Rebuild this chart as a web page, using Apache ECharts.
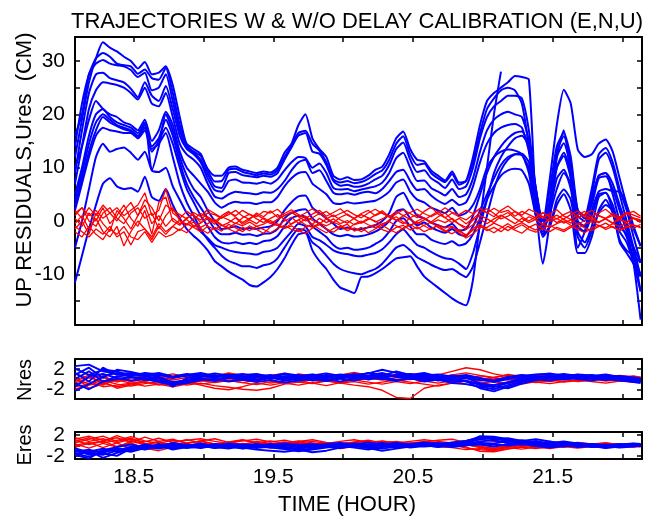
<!DOCTYPE html>
<html>
<head>
<meta charset="utf-8">
<title>Trajectories with and without delay calibration</title>
<script src="https://cdn.jsdelivr.net/npm/echarts@6/dist/echarts.min.js"></script>
<style>
  html, body { margin: 0; padding: 0; background: #fff; }
  #chart { width: 658px; height: 516px; }
</style>
</head>
<body>
<div id="chart"></div>
<script>
// time axis (hours), fine grid for the UP panel, coarse grid for N / E panels
const hours = [18.08, 18.13, 18.18, 18.23, 18.28, 18.33, 18.38, 18.43, 18.48, 18.53, 18.58, 18.63, 18.68, 18.73, 18.78, 18.83, 18.88, 18.93, 18.98, 19.03,
  19.08, 19.13, 19.18, 19.23, 19.28, 19.33, 19.38, 19.43, 19.48, 19.53, 19.58, 19.63, 19.68, 19.73, 19.78, 19.83, 19.88, 19.93, 19.98, 20.03,
  20.08, 20.13, 20.18, 20.23, 20.28, 20.33, 20.38, 20.43, 20.48, 20.53, 20.58, 20.63, 20.68, 20.73, 20.78, 20.83, 20.88, 20.93, 20.98, 21.03,
  21.08, 21.13, 21.18, 21.23, 21.28, 21.33, 21.38, 21.43, 21.48, 21.53, 21.58, 21.63, 21.68, 21.73, 21.78, 21.83, 21.88, 21.93, 21.98, 22.03,
  22.08, 22.13];
const hoursCoarse = [18.08, 18.18, 18.28, 18.38, 18.48, 18.58, 18.68, 18.78, 18.88, 18.98, 19.08, 19.18, 19.28, 19.38, 19.48, 19.58, 19.68, 19.78, 19.88, 19.98,
  20.08, 20.18, 20.28, 20.38, 20.48, 20.58, 20.68, 20.78, 20.88, 20.98, 21.08, 21.18, 21.28, 21.38, 21.48, 21.58, 21.68, 21.78, 21.88, 21.98,
  22.08, 22.13];

// tick positions and labels
const timeTicks = [18.5, 19, 19.5, 20, 20.5, 21, 21.5, 22];
const timeLabels = [18.5, 19.5, 20.5, 21.5];
const upTicks = [-15, -10, -5, 0, 5, 10, 15, 20, 25, 30];
const upLabels = [-10, 0, 10, 20, 30];
const resTicks = [-2, 0, 2];
const resLabelTop = [2];
const resLabelBottom = [-2];

// UP residuals without delay calibration (blue), cm
const upBlue01 = [12, 19, 26, 30.5, 33.5, 32.5, 31.8, 30.8, 30, 28.6, 29.8, 27.5, 27.8, 29, 25.5, 19.5, 14.2, 13, 12.2, 9.8,
  8.5, 8.5, 10, 10.2, 9.6, 9.3, 9.0, 9.3, 9.1, 10, 12.8, 14.5, 18, 20, 15.5, 13.5, 12, 8.5, 7.8, 8.2,
  7.7, 7.8, 8.5, 9.6, 10.2, 12.5, 15.5, 16.8, 13.5, 11.5, 11.2, 9.5, 8.5, 7.6, 9.3, 7.2, 7.5, 11, 16.5, 21,
  23, 24.5, 25, 24.5, 22, 14, 3, 0, 8, 18, 24.6, 22, 13.4, 12, 12.5, 14.5, 15.3, 13, 8, 3, -1.5, -4.7];
const upBlue02 = [14, 22, 27.5, 30.5, 31.5, 30.8, 29.5, 29.2, 29, 27.6, 28.4, 26.8, 26.5, 28.7, 24, 18, 14.5, 13.5, 12.6, 9.5,
  7.4, 7.5, 9.6, 9.8, 9.2, 8.9, 8.6, 8.9, 8.7, 9.5, 12, 14.2, 16.5, 16.9, 14.5, 13.2, 11, 7.8, 7.2, 7.5,
  7.1, 7.3, 7.9, 8.8, 9.5, 11.5, 14.5, 15.9, 12.5, 10.5, 10.8, 9, 8, 7.3, 8.8, 6.8, 7.5, 12, 18, 22.5,
  24, 25, 26, 27.2, 27, 26.5, 3, -8, 0, 12, 17, 8, -5, -2, 4, 8.5, 9, 5, 0, -3, -7, -10];
const upBlue03 = [16, 20, 27.5, 29.5, 30.2, 29.5, 29.2, 29, 28.3, 27, 27.8, 24.5, 25, 27.5, 22.5, 17, 13.8, 12.8, 11.5, 8.8,
  6.5, 6.2, 9.0, 9.2, 8.6, 8.4, 8.2, 8.5, 8.3, 9, 11.5, 13.8, 16, 16.5, 13, 12.6, 10.5, 7.5, 6.6, 6.8,
  6.4, 6.5, 7, 7.8, 8.5, 10.5, 13.5, 14.7, 11.5, 9.2, 9.5, 8, 7.2, 6.2, 7.8, 6, 6.5, 10, 15.5, 19.5,
  21.5, 22.5, 23.5, 23.5, 23, 17, 6, -1, 6, 14, 16.5, 12, 2, 1, 6, 12.5, 13.7, 11, 6, 2, -3, -7.8];
const upBlue04 = [9, 17, 24, 27.5, 27.8, 26.8, 26.4, 26, 24.8, 23.2, 26, 23.5, 22.5, 25.3, 21, 16, 13.5, 12.5, 11, 8,
  5.8, 5.5, 7.5, 7.8, 7.2, 7.15, 7, 7.3, 7, 7.8, 9.5, 11, 12, 11.8, 10, 10.8, 9, 6.2, 5.9, 6,
  5.6, 5.9, 6.2, 6.5, 7.2, 9, 11.8, 12.8, 10, 7.5, 7.6, 6.2, 5.5, 4.8, 6, 4.5, 5, 8, 13, 17,
  19, 20, 20.5, 20, 19.5, 15, 5, -1.5, 4, 13, 15.9, 11, 1, 0, 5, 11.5, 12.8, 10, 5, 0, -5, -10.4];
const upBlue05 = [7, 14, 21, 24.5, 26, 25.8, 25.5, 25, 24, 22.8, 25, 22, 21.5, 24, 19.5, 14.5, 12.5, 11.5, 10, 7,
  4.6, 4.2, 5, 5.5, 5.3, 5.2, 5, 5.4, 5.3, 6, 7.5, 9.5, 11, 11.5, 9, 9.5, 7.5, 5.3, 5, 5.2,
  4.9, 5.3, 5.5, 5.2, 6, 7.5, 9.2, 9.6, 7.5, 5.8, 6, 4.8, 3.8, 3.2, 4, 3, 3.5, 6.5, 11, 14.5,
  16.5, 17.5, 18, 18.2, 17.5, 13, 3, -2.5, 3, 12, 14.6, 10, 0, -1, 4, 8.5, 9, 7, 3, -1, -6, -13.2];
const upBlue06 = [10, 14, 19, 22.5, 21, 20, 19.5, 18.5, 18, 17, 19, 15, 17, 20.5, 18, 13, 10, 8.5, 7, 5.5,
  3.5, 2.5, 3.2, 3.6, 3.4, 3.4, 3.2, 3.5, 3.5, 4.5, 6.5, 8, 9, 9.2, 7, 6, 5, 3.4, 3.2, 3.5,
  3.3, 3.4, 3.6, 3.8, 4.5, 5.5, 7.2, 7.8, 5.5, 4, 3.5, 2.5, 2.0, 1.5, 2.5, 1, 1.5, 3, 6, 10,
  12, 13, 13.4, 13.2, 12.5, 9, 1, -2, 2, 8, 9.6, 6, -1, -2, 2, 5.5, 6, 5.6, 5.5, 3, -1, -4.7];
const upBlue07 = [5, 10, 16, 20, 21, 19.5, 18.5, 18, 17.5, 16.5, 18.4, 9.5, 14, 20, 17, 12, 8.5, 6, 4.5, 2,
  0, -1.5, -1.3, -1.0, -1.5, -1.3, -1.5, -1.2, -1.0, 0, 2, 3.5, 4.6, 4.8, 2.5, 1.5, 0.5, -0.5, -1.5, -1.2,
  -1.6, -1.5, -1.2, -0.8, 0, 1.5, 4.5, 5.3, 3, 1, 0.5, -0.3, -0.8, -1.2, -0.5, -1.8, -1.5, 1, 5, 9,
  12, 14, 15.5, 16.5, 16.8, 14, 6, -1, 3, 10, 12.8, 9, 2, 0.5, 3, 8, 8.4, 6, 2, -2, -8, -18.5];
const upBlue08 = [4, 9, 14.5, 18.5, 20, 19, 18, 17.5, 17, 16, 18, 14, 15.5, 19, 16, 11, 7, 4.5, 2.5, 0.5,
  -1.5, -2.5, -2.5, -2.2, -2.6, -2.5, -2.8, -2.4, -2.3, -1.5, 0.5, 1.5, 2, 2.2, 0.5, -0.5, -1.5, -2.5, -2.85, -2.6,
  -2.9, -2.8, -2.5, -2, -1.2, 0, 1.8, 2.2, 0.5, -0.8, -0.3, -1.2, -1.8, -2.2, -1.5, -2.5, -2.8, -1, 2, 5,
  8, 10.5, 12, 12.5, 12.3, 10, 3, -1.5, 1.5, 6, 9, 7, -2, -4, -1, 4.5, 5.3, 3, -1, -2.5, -5, -7.8];
const upBlue09 = [2, 7, 12, 16, 17.5, 17, 16.8, 16.5, 16.5, 15.5, 17, 13, 15, 17.5, 14.5, 10, 6, 3.5, 1, -1,
  -3, -4, -4.2, -4, -4.3, -4.1, -4.3, -3.8, -3.6, -2.8, -1, 0.5, 1, 0.8, -1, -2, -3, -4.5, -5.2, -5,
  -5.4, -5.3, -5, -4.3, -3.5, -2, 0, 0.5, -1, -2.5, -2.5, -3.5, -4, -4.3, -3.8, -4.6, -4.2, -2.5, 0.5, 4,
  6.5, 8.5, 9.5, 9.8, 9.5, 7, 1, -2.5, -1, 4, 5.9, 4, -3, -5, -2, 1.5, 3, 2, -2, -4, -8, -13.2];
const upBlue10 = [-5, 0, 6, 12, 14.5, 13, 13.5, 13.8, 12.8, 11.5, 13, 9.5, 9.2, 10, 6.5, 4, 1.5, 0, -2, -3.2,
  -4.5, -5, -5.5, -5.8, -6, -6.1, -6.3, -5.8, -5.6, -5, -3.5, -2, -0.5, -1, -3, -3.6, -4.5, -5.5, -6, -6.2,
  -6.5, -6.6, -6.3, -6, -5.3, -4, -2.5, -1.6, -3, -4.5, -5, -5.8, -6.5, -7, -7.2, -8, -9, -6, -1, 4,
  9, 12, 14, 15.5, 16, 14, 6, 0, 3, 10, 12.2, 8, -1, -2, 1, 5, 5.3, 2, -4, -6, -8, -10.4];
const upBlue11 = [-11.5, -6.5, -1.5, 3, 7, 8, 6.5, 6, 6.2, 5.5, 8.3, 4.5, 3.8, 6, 3, 0.5, -1.5, -2.8, -4, -5.5,
  -7.5, -8.5, -9.5, -10.3, -11, -12, -12.3, -11.5, -10.5, -9, -7, -4.5, -2.5, -2.2, -5.5, -7.5, -9, -11, -12.5, -13,
  -13.5, -10.5, -10.4, -9.8, -9, -8, -7, -6.8, -6.6, -8.5, -10.4, -11.5, -12.5, -13.5, -14.5, -15.3, -15.8, -11, 0, 10,
  20, 28];
const upBlue12 = [3, 8, 13, 17, 19.5, 18.5, 17.8, 17.2, 16.8, 15.8, 17.5, 13.5, 14.5, 16.5, 12, 7, 3.5, 1, -1.5, -3.5,
  -5, -6.5, -7.5, -8, -8.5, -8.5, -8.8, -8.3, -8, -7, -5, -3, -1.5, -1.8, -4, -5, -6.5, -8, -9, -9.5,
  -9.8, -10, -9.5, -9, -8, -6.5, -5, -4.5, -5.5, -6.8, -7.5, -8.2, -8.8, -9.2, -9, -9.8, -10.5, -8.5, -4, 1,
  6, 9.5, 11.5, 12.5, 12.6, 11, 4, -3, -1, 3, 5, 2, -6, -6, -3, 2, 4, 1.5, -3.5, -5.5, -6.5, -7.8];

// UP residuals with delay calibration (red), cm
const upRed01 = [1.5, 2.5, 1, 2, 0.5, 1.5, 2.5, 1, 2, 3, 5.3, 1, 2, 6, 1.5, 0.5, 1.8, 1, 0.2, 1.5,
  1.2, 0.5, 1.6, 1, 2, 1.2, 0.8, 1.8, 1.5, 2.2, 1, 1.6, 0.8, 1.5, 2.3, 1.2, 1.8, 0.8, 1.4, 2,
  1.2, 0.6, 1.5, 2.2, 1.4, 0.8, 1.8, 1, 1.6, 2.2, 1.4, 0.8, 1.5, 2.5, 1.6, 1.2, 2, 1.4, 2.3, 1.5,
  2.4, 1.6, 2, 0.9, 1.8, 1.2, 0.6, 1.5, 1, 0.4, 1.2, 1.8, 0.6, 1.3, 2, 1, 0.5, 1.4, 0.8, 1.6, 1.1, 0.6];
const upRed02 = [-1, -2, -3, -1.5, -2.5, -1, -3, -2, -4.5, -2, -1.5, -3.5, -1, -2.5, -1, -1.8, -0.5, -1.2, -2, -1,
  -1.6, -0.8, -1.5, -2.1, -1.2, -1.8, -1, -1.6, -2.2, -1.4, -0.8, -1.6, -2, -1.2, -0.6, -1.5, -2.2, -1.4, -1, -1.8,
  -1.3, -2, -1.1, -0.7, -1.6, -2.1, -1.2, -0.8, -1.7, -1.1, -2, -1.4, -0.9, -1.8, -2.4, -1.6, -2.8, -1.7, -0.9, -1.8,
  -1.2, -2, -1, -1.7, -2.3, -1.2, -0.6, -1.5, -2, -1.2, -1.7, -0.9, -1.6, -2.2, -1.3, -0.8, -1.6, -1, -1.8, -1.2, -0.7, -1.3];
const upRed03 = [0.5, -1, 1.5, 0, 2.5, -0.5, 1, 3, 0.5, -1, 2, -2.5, 3.5, 4.5, 0, -0.8, 0.6, 1.2, -0.3, 0.4,
  -0.6, 0.8, 0.2, -0.5, 0.6, 1.3, 0.4, -0.3, 0.5, 1.2, 0.3, -0.6, 0.2, 0.9, 0.1, -0.5, 0.4, 1.1, 0.2, -0.4,
  0.5, 1.2, 0.6, -0.2, 0.4, 1, 0.2, -0.5, 0.6, 1.3, 0.5, -0.2, 0.8, 1.5, 0.3, -0.6, -1.2, 0.2, 1, 0.4,
  -0.3, 0.9, 1.6, 0.5, -0.2, 0.8, 0.2, -0.6, 0.4, 1.1, 0.3, -0.4, 0.6, 1.2, 0.3, -0.3, 0.5, 1, 0.2, -0.3, 0.6, 0.1];
const upRed04 = [-0.5, 1, -1.5, 0.5, -2, -3, -1, -4.7, -2, 0, -1.5, -3, -0.5, -2, -1, 0.2, -0.8, -0.2, -1.2, -0.5,
  0.3, -0.7, -1.3, -0.4, -0.9, -0.2, -1, -0.6, 0.1, -0.8, -1.4, -0.5, 0.2, -0.7, -1.2, -0.4, -0.9, -0.2, -0.8, -1.5,
  -0.6, 0, -0.7, -1.3, -0.5, -0.1, -0.9, -1.5, -0.8, -0.2, -0.9, -1.6, -0.7, -1.3, -1.0, -2.2, -3.2, -2.4, -1.2, -1.2,
  -0.4, -1, -1.8, -0.9, -0.3, -1.1, -1.7, -0.6, -1.2, -0.5, 0, -0.8, -1.4, -0.6, -0.1, -0.9, -1.3, -0.5, -1, -0.4, -0.8, -1.1];
const upRed05 = [2, 0.5, 2.5, 1, 3, 1.5, 0, 2, 3.5, 1, 4, 2.5, 0, 3, 2, 1.2, 0.4, 1.6, 0.8, 2.2,
  1.4, 0.6, 1.2, 2, 0.9, 0.3, 1.5, 0.8, 1.9, 0.7, 1.4, 2.1, 1.2, 0.5, 1.3, 2, 0.9, 1.6, 2.3, 1.1,
  0.5, 1.4, 2, 1, 1.6, 0.7, 1.3, 2.1, 1.4, 0.6, 1.8, 2.6, 1.3, 0.6, 1.5, 0.8, 0.2, 1.2, 2.4, 1.6,
  0.8, 2, 2.8, 1.8, 1.1, 2.2, 1.6, 0.5, 1.4, 2.1, 0.9, 0.3, 1.2, 1.8, 0.8, 1.5, 2.2, 1.1, 0.4, 1.4, 1.8, 0.9];
const upRed06 = [-2, -3, -1, -2.5, -3.5, -1.5, -2.5, -1, -3, -3.5, -2, -4, -2, -3, -2.5, -1.5, -2.2, -0.8, -1.5, -2.3,
  -1.2, -1.9, -0.6, -1.3, -2, -0.9, -1.6, -2.3, -1.1, -0.5, -1.4, -0.9, -1.7, -2.4, -1.3, -0.7, -1.5, -2.1, -1.2, -0.6,
  -1.9, -1.2, -2.2, -1.5, -0.8, -1.6, -2.2, -1.3, -0.6, -1.5, -0.8, -0.2, -1.2, -2, -1.1, -1.9, -2.6, -1.4, -0.6, -1.5,
  -2.2, -1.3, -0.5, -1.4, -0.7, -1.6, -2.1, -1.4, -0.8, -1.5, -2, -1.2, -0.5, -1.3, -1.8, -1, -0.4, -1.2, -1.7, -0.9, -1.4, -0.6];
const upRed07 = [1, 2.5, 0, -1, 1.5, 2.5, 0.5, -0.5, 1.5, 2.5, 0.5, 1.5, -1.5, 1, 2.5, 0, -0.6, 0.4, 1.4, 0.6,
  -0.2, 1, 1.8, 0.7, -0.3, 0.5, 1.2, 0.4, -0.5, 0.3, 1, 1.7, 0.8, 0, 0.6, 1.4, 0.5, -0.3, 0.7, 1.3,
  0.4, -0.4, 0.3, 1.1, 1.9, 0.8, 0.1, 1, 0.3, -0.5, 0.2, 1, 1.8, 0.6, -0.3, 0.5, -0.5, 0.4, 1.6, 2.3,
  1.4, 0.4, 0.9, 1.8, 0.8, 0, 0.8, 1.6, 0.6, -0.3, 0.4, 1.2, 1.9, 0.7, 0.1, 1, 0.4, -0.4, 0.6, 1.4, 0.5, 0.2];
const upRed08 = [-1.5, 0, -2.5, 1.5, -0.5, -2, 2, 0.5, -1.5, 1, 3, -0.5, 1, -1, 0.5, -0.5, 0.3, -1, -0.4, 0.8,
  0, -0.9, -0.3, 0.6, -0.6, 0.2, -0.5, 0.6, -0.2, -0.9, 0, 0.7, -0.4, 0.3, -0.6, 0.5, -0.3, 0.4, -0.5, 0.1,
  -0.7, -0.3, 0.5, 0, -0.8, 0.2, 0.8, -0.2, -0.9, 0, 0.6, -0.4, 0.2, -0.3, 0.5, -0.6, -1.6, -0.7, 0.3, -0.5,
  0.4, 1.1, 0.3, -0.5, 0.5, -0.3, 0.3, 0.9, -0.1, 0.5, -0.4, 0.2, -0.6, 0.1, 0.7, -0.2, 0.4, -0.4, 0.3, -0.2, 0.5, -0.3];

// North residuals (cm)
const northBlue1 = [2.5, 2.8, 1.5, 1, 1.2, 0.6, 0.8, 0.3, 0.6, 0.9, 0.4, 0.7, 1, 0.5, 0.8, 0.2, 0.6, 0.9, 0.5, 0.2,
  0.8, 1.1, 1.8, 1.2, 0.6, 0.9, 0.4, 0.7, 0.3, -0.2, -0.5, 0.3, 0.6, 0.9, 1, 0.7, 0.8, 0.4, 0.6, 0.2, -0.2, 0];
const northBlue2 = [-2.3, -1, 0.5, 1.2, 0.4, 0.2, -0.3, -0.8, -0.2, 0.1, -0.4, 0.2, 0.5, -0.1, 0.3, -0.3, 0.1, 0.4, 0, -0.5,
  0.2, 0.6, 0.3, 0.8, 0.5, -0.2, 0.1, -0.6, -0.3, -1.2, -1.6, -0.8, -0.1, 0.3, 0.6, 0.4, 0.2, 0.5, 0.1, -0.3, -0.5, -0.6];
const northBlue3 = [1.2, -0.5, 2.2, 0.8, 1, 0.5, 0.2, -1.5, 0.2, 0.6, 0.2, 0.9, 0.4, 0.7, 0.1, 0.5, 0.8, 0.2, 0.5, 0.9,
  0.4, 1.2, 0.6, 1.5, 0.8, 0.3, 0.6, 0.1, -0.4, -1.8, -2.4, -1.5, -0.6, 0.2, 0.5, 0.8, 0.3, 0.6, 0.9, 0.4, 0, -0.3];
const northBlue4 = [0, 1.5, -0.5, 0.5, 0.8, 1, 0.4, -0.6, -0.2, 0.4, 0.8, 0.3, -0.2, 0.4, 0.6, 0, 0.3, -0.3, 0.2, 0.6,
  1, 0.5, 0.3, 0.7, 1, 0.6, 0.2, -0.2, 0.2, -0.8, -1.2, -0.6, 0.2, 0.5, 0.3, 0.1, 0.5, 0.8, 0.3, 0.1, -0.3, -0.4];
const northBlue5 = [-1.5, 0.5, 1, 0.2, -0.3, 0, -0.6, -1.2, -0.8, -0.2, 0, -0.5, -0.1, -0.6, -0.2, -0.7, -0.3, 0, -0.4, 0.1,
  -0.3, 0.3, 0, -0.4, 0.2, -0.5, -0.1, -0.8, -1, -1.5, -2, -1.2, -0.4, 0, -0.3, 0.2, 0, -0.3, 0.2, -0.2, -0.6, -0.8];
const northBlue6 = [2, 0.8, 1.8, 1.5, 0.6, 1.2, 0.9, 0.2, 0.8, 1.2, 0.6, 0.3, 0.8, 1, 0.4, 0.9, 0.3, 0.7, 1.1, 0.6,
  0.9, 0.4, 1, 0.5, 0.2, 0.7, 0.9, 0.5, 0.8, 0.2, -0.6, 0, 0.5, 0.8, 1.1, 0.5, 0.9, 0.7, 0.4, 0.6, 0.3, 0.1];
const northBlue7 = [-0.8, -2, -0.5, 0, 0.4, -0.2, 0.2, -1, -0.5, 0, -0.3, 0.4, 0.1, -0.3, 0.2, 0.5, -0.1, 0.2, -0.2, 0.3,
  0.6, -0.1, 0.4, -0.2, 0, 0.3, -0.3, 0, -0.5, -1, -1.4, -1.8, -0.9, -0.2, 0.2, -0.1, 0.3, 0.1, -0.2, 0.1, -0.2, -0.5];
const northBlue8 = [0.8, 2.2, 0.2, 1.8, 1.4, 0.8, 1.2, 0.5, 1, 0.6, 1.1, 0.7, 0.3, 0.9, 0.5, 1.1, 0.7, 0.4, 0.8, 0.5,
  0.1, 0.7, 1.2, 0.4, 0.8, 1.2, 0.5, 0.3, 0.6, 0.1, -0.3, 0.4, 0.8, 0.4, 0.7, 1, 0.6, 0.3, 0.7, 0.4, 0.1, -0.2];
const northRed1 = [-1, -0.5, -1.5, -1.2, -0.8, -1.4, -1, -0.6, -1.2, -0.8, -1.3, -1.6, -2, -2.2, -1.8, -1, -0.6, -0.9, -0.4, -0.8,
  -1.2, -1.5, -2.2, -3.6, -3.8, -1.8, -1.2, -0.8, -0.4, -0.8, -0.5, -0.9, -0.3, -0.7, -0.4, 0, -0.5, -0.2, 0.1, -0.3, 0.2, 0];
const northRed2 = [0.5, -1.8, -1, -0.2, -0.8, -0.4, 0, -0.5, -0.9, -0.4, 0.1, -0.3, -0.7, -0.2, 0.3, -0.2, -0.6, -0.1, 0.4, 0,
  -0.3, 0.2, -0.2, 0.3, -0.1, 0.4, 0.8, 1.5, 2.2, 1.8, 1, 0.5, 0.2, 0.6, 0.3, 0.1, 0.5, 0.2, 0.6, 0.3, 0.5, 0.2];
const northRed3 = [-0.5, 0.8, -1.2, 0.2, -0.5, 0, 0.5, -0.2, 0.3, 0.8, 0.4, 1, 0.6, 0.2, 0.7, 1.1, 0.5, 0.9, 0.6, 0.2,
  0.6, 1.2, 0.8, 0.4, 1, 0.6, 0.2, 0.8, 1.2, 0.7, 0.3, 0.9, 0.5, 0.8, 0.4, 0.6, 0.9, 0.5, 0.8, 0.5, 0.2, 0.4];
const northRed4 = [-2, -1.2, -0.8, -1.5, -1, -0.6, -1.2, -0.8, -0.4, -1, -0.6, -0.2, -0.7, -1.1, -0.5, -0.8, -1.2, -0.7, -0.3, -0.8,
  -0.5, -1, -0.6, -0.2, -0.6, -1, -1.4, -0.8, -0.4, -0.8, -1.2, -0.7, -0.3, -0.6, -0.9, -0.5, -0.2, -0.5, -0.8, -0.4, -0.6, -0.3];
const northRed5 = [1, 0.2, 0.6, -0.6, 0.2, 0.6, -0.1, 0.3, 0.7, 0.2, -0.2, 0.5, 0.9, 0.4, 0, 0.5, 0.2, -0.3, 0.2, 0.7,
  0.3, -0.1, 0.5, 0.9, 0.6, 0.1, -0.3, 0.2, 0.6, 0.2, -0.2, 0.4, 0.8, 0.3, 0, 0.4, 0.1, 0.6, 0.3, 0.7, 0.4, 0.1];
const northRed6 = [-1.5, -1, -0.3, -1, -1.4, -0.9, -0.5, -1.1, -0.6, -1.2, -1.8, -2.1, -1.5, -0.8, -1.2, -0.7, -0.3, -0.8, -1.3, -0.7,
  -0.2, -0.6, -1, -0.5, -0.9, -0.4, 0, -0.5, -1, -1.5, -1.1, -0.6, -1, -0.5, -0.1, -0.6, -0.3, 0, -0.4, -0.1, -0.4, -0.2];
const northRed7 = [0, -1, 0.3, -0.4, 0.4, -0.2, 0.5, 1, 0.4, 0, 0.5, 1.2, 0.7, 0.2, 0.6, 0.1, 1, 0.6, 0.2, 0.8,
  1.3, 0.7, 0.3, 0.8, 0.2, -0.3, 0.2, 0.6, 0.1, -0.4, 0.3, 0.7, 0.2, 0.5, 0.1, 0.5, 0.8, 0.4, 0, 0.3, 0.6, 0.3];
const northRed8 = [-0.8, 0.3, -0.5, -1.8, -1.2, -0.5, -1, -1.5, -1, -0.3, -0.7, -0.3, 0.2, -0.3, -0.8, -0.4, 0, 0.5, 0, -0.5,
  0, 0.5, 0.2, -0.3, 0.1, -0.4, -0.8, -0.3, 0.2, 0.6, 0.2, -0.2, 0.3, -0.2, -0.5, -0.1, -0.4, 0.2, -0.1, -0.3, 0.1, -0.1];

// East residuals (cm)
const eastBlue1 = [-1.5, -2.2, -1.2, -0.8, -0.5, 0.2, -0.3, 0.5, 0.1, -0.2, 0.3, 0, -0.3, 0.2, -0.1, 0.3, -0.2, -0.5, 0.1, -0.3,
  0.2, -0.1, 0.3, -0.4, 0, 0.4, 0.2, 0.6, 0.9, 1.6, 1.4, 0.8, 0.5, 0.9, 0.3, 0.6, 0.1, -0.2, 0.2, 0, 0.3, 0.1];
const eastBlue2 = [-1, -1.5, -1.8, -1, -0.2, -0.6, 0.3, -0.4, 0, 0.4, -0.2, 0.1, -0.4, -0.8, -1, -1.2, -0.9, -0.6, -0.2, -0.5,
  0, -0.3, -0.6, -0.2, 0.2, 0, -0.2, 0.3, 0.6, 1.8, 1.7, 1.2, 0.8, 0.4, 0.7, 0.2, -0.2, 0, -0.3, 0.2, -0.1, 0.2];
const eastBlue3 = [-2, -1, -2.4, -1.4, -0.8, -0.3, -0.6, -0.1, -0.5, -0.2, 0.2, -0.3, 0, -0.5, -0.2, 0.1, -0.3, 0, 0.3, 0.5,
  0.2, 0.6, 0.1, 0.4, 0, 0.3, 0.5, 0.2, 0.5, 1.2, 1.5, 1, 0.6, 0.2, 0.5, 0.8, 0.4, 0.1, -0.1, 0.2, 0.4, 0.3];
const eastBlue4 = [-0.8, -1.8, -1.4, -0.5, -1, -0.2, 0.1, -0.8, -0.3, 0.2, -0.3, -0.6, -0.1, 0.2, -0.2, -0.5, -0.8, -1.3, -1, -0.4,
  -0.1, -0.5, -1, -0.6, -0.2, 0.1, -0.3, 0, 0.3, 0.8, 1, 0.5, 0.2, 0.5, 0.1, -0.2, 0.2, -0.1, -0.4, -0.1, 0.1, -0.2];
const eastBlue5 = [-1.2, -0.8, -1.5, -2, -0.6, 0, -0.4, 0.2, -0.2, -0.5, 0, -0.2, 0.2, -0.1, 0.3, 0, 0.2, -0.2, 0, 0.2,
  -0.2, 0.2, 0.5, 0.1, 0.3, 0.6, 0.3, 0.1, 0.2, 0.5, 0.4, 0.8, 1, 0.6, 0.2, 0.4, 0, 0.3, 0.1, -0.2, 0, 0.2];
const eastBlue6 = [-1.6, -1.2, -0.6, -1.2, -0.3, -0.8, -0.2, -0.6, 0.2, -0.1, -0.4, 0.1, -0.2, 0.1, -0.4, -0.7, -1.1, -0.8, -0.4, -0.1,
  -0.4, -0.8, -0.3, 0, -0.4, -0.1, 0.2, -0.1, 0.1, 0.2, -0.2, 0.3, 0.6, 0.2, -0.1, 0.1, -0.3, -0.1, -0.5, -0.2, -0.1, 0];
const eastBlue7 = [-0.5, -1.4, -1, -0.8, -1.2, -0.5, 0, 0.4, -0.1, 0.3, -0.1, 0.4, 0.1, 0.3, 0, 0.4, 0.1, 0.3, -0.1, 0.1,
  0.4, 0, 0.2, 0.5, 0.2, -0.1, 0.3, 0.5, 0.9, 1.5, 1.2, 1.4, 0.9, 1.2, 0.8, 0.3, 0.5, 0.2, 0, 0.3, -0.1, 0.1];
const eastBlue8 = [-1.8, -2.5, -0.9, -0.3, 0.2, -0.4, -0.1, -0.6, -0.2, 0, -0.5, -0.2, -0.6, -0.3, 0, -0.3, -0.6, -0.3, 0.1, -0.2,
  0.1, -0.2, 0, -0.3, 0.1, -0.2, 0, -0.3, 0, 0.4, 0.2, 0, 0.3, -0.1, -0.4, -0.1, 0.1, -0.3, -0.1, -0.4, -0.2, 0];
const eastRed1 = [1.2, 1.8, 1, 1.5, 0.6, 1.6, 0.8, 1.2, 0.4, 0.9, 1.3, 0.6, 1, 0.5, 0.9, 0.4, 0.8, 1.1, 0.6, 0.3,
  0.7, 1, 0.5, 0.8, 0.4, 0.7, 1, 1.2, 0.6, 0.2, -0.2, 0.3, 0.6, 0.2, 0.5, 0.1, 0.4, 0.2, 0.5, 0.1, 0.3, 0.1];
const eastRed2 = [0.5, 1.2, 1.8, 0.8, 1.4, 0.4, -0.2, 0.6, 1.1, 0.5, 0.1, 0.6, 0.2, 0.8, 0.4, 0, 0.5, 0.2, -0.2, 0.3,
  0.6, 0.1, -0.3, 0.2, 0.5, 0.1, -0.2, 0.2, -0.5, -0.8, -1, -0.6, -0.2, 0.1, -0.2, 0.2, -0.1, 0.3, 0, -0.2, 0, -0.1];
const eastRed3 = [1, 0.2, 0.8, 1.9, 1, 0.3, 0.8, -0.3, 0.3, -0.5, 0.2, -0.2, 0.4, -0.1, 0.3, 0.7, 0.2, -0.2, 0.2, 0.5,
  0.2, 0.6, 0.3, 0, 0.4, 0.8, 0.5, 0.1, -0.3, -1.1, -1.2, -0.7, -0.3, -0.6, -0.2, 0.1, -0.2, 0, 0.3, 0, 0.2, 0];
const eastRed4 = [0, 0.6, -0.4, 0.5, -0.6, 0.2, -0.4, 0.4, -0.2, 0.2, -0.5, -0.1, -0.6, -0.2, -0.5, -0.1, -0.4, 0, -0.3, -0.6,
  -0.2, -0.5, 0, -0.3, -0.1, 0.2, -0.2, -0.4, -0.8, -0.6, -0.9, -0.4, -0.7, -0.3, -0.6, -0.2, -0.5, -0.2, -0.4, -0.1, -0.3, -0.2];
const eastRed5 = [1.5, 0.8, 1.3, 0.5, 1.2, 0.7, 1.4, 0.6, 1, 1.3, 0.8, 0.4, 0.9, 1.2, 0.7, 1, 0.5, 0.8, 0.4, 0.8,
  1.1, 0.6, 0.9, 0.5, 0.8, 1.1, 0.8, 0.5, 0.9, 1.2, 0.8, 0.5, 0.2, 0.5, 0.8, 0.4, 0.6, 0.3, 0.5, 0.2, 0.4, 0.2];
const eastRed6 = [-0.3, 0.4, 0.9, -0.2, 0.5, -0.5, -1, -0.3, 0.3, -0.4, 0, 0.4, -0.2, 0.3, -0.3, 0.2, 0.6, 0.2, 0.5, 0.1,
  -0.2, 0.2, 0.5, 0.2, -0.2, 0.1, 0.4, 0, 0.2, -0.3, -0.6, -0.2, 0.1, -0.3, 0, -0.3, 0, 0.2, -0.1, 0.1, -0.1, 0];
const eastRed7 = [0.8, 1.5, 0.5, 1, 1.7, 0.9, 0.4, 1, 0.5, 0.8, 0.3, 0.7, 1.1, 0.6, 0.2, 0.5, 0.9, 0.5, 0.1, 0.4,
  0, 0.4, 0.8, 0.6, 0.2, 0.5, 0.2, -0.1, 0.3, -0.2, -0.5, 0, 0.4, 0, 0.3, 0, 0.2, -0.1, 0.2, 0, -0.2, 0];
const eastRed8 = [0.3, -0.5, 0.4, -0.3, 0.8, 0.2, 0.6, 0, 0.4, 0.9, 0.3, -0.2, 0.3, -0.2, 0.5, 0.1, -0.3, 0.1, 0.5, 0.2,
  0.5, 0.8, 0.2, -0.2, 0.3, -0.1, 0.3, 0.6, 0.2, -0.4, -0.8, -0.3, 0, 0.4, 0.1, 0.3, 0.1, -0.2, 0.1, 0.3, 0.1, 0.2];

const upBlue = [upBlue01, upBlue02, upBlue03, upBlue04, upBlue05, upBlue06, upBlue07, upBlue08, upBlue09, upBlue10, upBlue11, upBlue12];
const upRed = [upRed01, upRed02, upRed03, upRed04, upRed05, upRed06, upRed07, upRed08];
const northBlue = [northBlue1, northBlue2, northBlue3, northBlue4, northBlue5, northBlue6, northBlue7, northBlue8];
const northRed = [northRed1, northRed2, northRed3, northRed4, northRed5, northRed6, northRed7, northRed8];
const eastBlue = [eastBlue1, eastBlue2, eastBlue3, eastBlue4, eastBlue5, eastBlue6, eastBlue7, eastBlue8];
const eastRed = [eastRed1, eastRed2, eastRed3, eastRed4, eastRed5, eastRed6, eastRed7, eastRed8];

const FONT = "'Liberation Sans', Arial, Helvetica, sans-serif";
const BLUE = '#0000ff';
const RED = '#ff0000';
const T_MIN = 18.08;
const T_MAX = 22.14;
const UP_RANGE = [-19.5, 34.5];
const N_RANGE = [-3.9, 3.9];
const E_RANGE = [-2.6, 2.6];

const frame = { show: true, onZero: false, lineStyle: { color: '#000', width: 2 } };
const tickStyle = { color: '#000', width: 1.5 };
const labelText = { color: '#000', fontSize: 21, fontFamily: FONT, hideOverlap: false };

const makeXAxis = (gridIndex, position, showLabels) => ({
  type: 'value',
  gridIndex,
  position,
  min: T_MIN,
  max: T_MAX,
  axisLine: frame,
  axisTick: { show: true, inside: true, length: 5, customValues: timeTicks, lineStyle: tickStyle },
  axisLabel: { ...labelText, show: showLabels, customValues: timeLabels, formatter: v => v.toFixed(1), margin: 8 },
  splitLine: { show: false },
});

const makeYAxis = (gridIndex, position, range, ticks, labels, showLabels) => ({
  type: 'value',
  gridIndex,
  position,
  min: range[0],
  max: range[1],
  axisLine: frame,
  axisTick: { show: true, inside: true, length: 5, customValues: ticks, lineStyle: tickStyle },
  axisLabel: { ...labelText, show: showLabels, customValues: labels, margin: 10 },
  splitLine: { show: false },
});

// extra left axis that only carries one more label (the small panels have two labels 20px apart)
const makeLabelAxis = (gridIndex, range, labels) => ({
  type: 'value',
  gridIndex,
  position: 'left',
  min: range[0],
  max: range[1],
  axisLine: { show: false },
  axisTick: { show: false },
  axisLabel: { ...labelText, customValues: labels, margin: 10 },
  splitLine: { show: false },
});

const makeLine = (xs, ys, color, width, gridIndex, smooth) => ({
  type: 'line',
  xAxisIndex: gridIndex * 2,
  yAxisIndex: gridIndex * 2,
  data: ys.map((v, i) => [xs[i], v]),
  symbol: 'none',
  smooth,
  silent: true,
  lineStyle: { color, width },
});

const series = [
  ...upBlue.map(ys => makeLine(hours, ys, BLUE, 2, 0, 0.2)),
  ...upRed.map(ys => makeLine(hours, ys, RED, 1.3, 0, false)),
  ...northRed.map(ys => makeLine(hoursCoarse, ys, RED, 1.4, 1, false)),
  ...northBlue.map(ys => makeLine(hoursCoarse, ys, BLUE, 1.9, 1, false)),
  ...eastRed.map(ys => makeLine(hoursCoarse, ys, RED, 1.4, 2, false)),
  ...eastBlue.map(ys => makeLine(hoursCoarse, ys, BLUE, 1.9, 2, false)),
];

const label = (text, x, y, size, rotated) => ({
  type: 'text',
  x,
  y,
  rotation: rotated ? Math.PI / 2 : 0,
  silent: true,
  style: {
    text,
    fill: '#000',
    fontSize: size,
    fontFamily: FONT,
    align: 'center',
    verticalAlign: 'middle',
    textAlign: 'center',
    textVerticalAlign: 'middle',
  },
});

const chart = echarts.init(document.getElementById('chart'));
chart.setOption({
  animation: false,
  backgroundColor: '#fff',
  grid: [
    { left: 75, right: 16, top: 37, height: 288 },
    { left: 75, right: 16, top: 359, height: 40 },
    { left: 75, right: 16, top: 432, height: 27 },
  ],
  xAxis: [
    makeXAxis(0, 'bottom', false), makeXAxis(0, 'top', false),
    makeXAxis(1, 'bottom', false), makeXAxis(1, 'top', false),
    makeXAxis(2, 'bottom', true), makeXAxis(2, 'top', false),
  ],
  yAxis: [
    makeYAxis(0, 'left', UP_RANGE, upTicks, upLabels, true), makeYAxis(0, 'right', UP_RANGE, upTicks, upLabels, false),
    makeYAxis(1, 'left', N_RANGE, resTicks, resLabelTop, true), makeYAxis(1, 'right', N_RANGE, resTicks, resLabelTop, false),
    makeYAxis(2, 'left', E_RANGE, resTicks, resLabelTop, true), makeYAxis(2, 'right', E_RANGE, resTicks, resLabelTop, false),
    makeLabelAxis(1, N_RANGE, resLabelBottom),
    makeLabelAxis(2, E_RANGE, resLabelBottom),
  ],
  series,
  graphic: [
    label('TRAJECTORIES W & W/O DELAY CALIBRATION (E,N,U)', 357, 22, 22, false),
    label('UP RESIDUALS,Ures  (CM)', 25, 170, 22, true),
    label('Nres', 25, 380, 20, true),
    label('Eres', 25, 445, 20, true),
    label('TIME (HOUR)', 347, 505, 22, false),
  ],
});
</script>
</body>
</html>
